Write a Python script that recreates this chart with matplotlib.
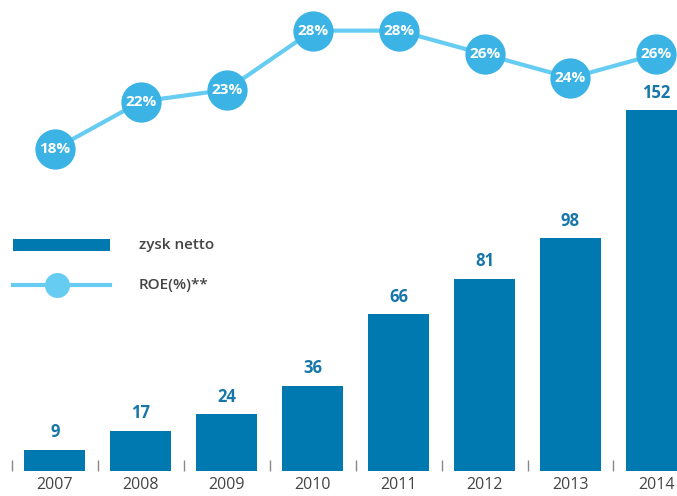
import matplotlib
matplotlib.use("Agg")
import matplotlib.pyplot as plt
from matplotlib.lines import Line2D
from matplotlib.patches import Rectangle

years = ["2007", "2008", "2009", "2010", "2011", "2012", "2013", "2014"]
zysk_netto = [9, 17, 24, 36, 66, 81, 98, 152]
roe = [18, 22, 23, 28, 28, 26, 24, 26]
roe_labels = ["18%", "22%", "23%", "28%", "28%", "26%", "24%", "26%"]

BAR = "#0079B0"
LINE = "#66CCF2"
CIRC = "#3BB4E5"
TXT = "#1877A9"
GRAY = "#444444"

plt.rcParams['font.family'] = ['Open Sans', 'DejaVu Sans']

W, H = 677, 496
fig = plt.figure(figsize=(W / 100, H / 100), dpi=100)
base = 471
ax = fig.add_axes([0, (H - base) / H, 1, base / H])
x = list(range(len(years)))
ax.bar(x, zysk_netto, width=0.71, color=BAR, zorder=2)
ax.set_xlim(-0.64, 7.24)
ax.set_ylim(0, base / 2.375)
for xi, v in zip(x, zysk_netto):
    ax.annotate(str(v), (xi, v), xytext=(0, 6), textcoords="offset points",
                ha="center", va="bottom", fontsize=12, fontweight="bold", color=TXT)
for s in ax.spines.values():
    s.set_visible(False)
ax.set_yticks([])
ax.set_xticks(x)
ax.set_xticklabels(years, fontsize=11.5, color=GRAY)
ax.tick_params(axis="x", which="major", length=0, pad=4)
ax.set_xticks([i - 0.5 for i in x], minor=True)
ax.tick_params(axis="x", which="minor", direction="in", length=8, width=1, color="#888888")

ax2 = ax.twinx()
ax2.set_ylim(-9.25, 30.59)
ax2.plot(x, roe, color=LINE, lw=3, zorder=3)
ax2.plot(x, roe, 'o', color=CIRC, markersize=29, markeredgewidth=0, zorder=4)
for xi, v, lab in zip(x, roe, roe_labels):
    ax2.text(xi, v, lab, ha="center", va="center", fontsize=11, fontweight="bold",
             color="white", zorder=5)
ax2.set_yticks([])
for s in ax2.spines.values():
    s.set_visible(False)
ax2.tick_params(axis="x", which="both", length=0)

# legend
def px(xp, yp):
    return xp / W, 1 - yp / H

fig.add_artist(Rectangle(px(13, 251), 97 / W, 12 / H, transform=fig.transFigure,
                         color=BAR, lw=0))
fig.text(*px(139, 245), "zysk netto", fontsize=11, fontweight="semibold", color=GRAY, va="center")
x0, y0 = px(13, 285)
x1, _ = px(110, 285)
fig.add_artist(Line2D([x0, x1], [y0, y0], transform=fig.transFigure, color=LINE, lw=3))
xm, _ = px(57, 285)
fig.add_artist(Line2D([xm], [y0], transform=fig.transFigure, marker='o', color=LINE,
                      markersize=18, markeredgewidth=0))
fig.text(*px(139, 285), "ROE(%)**", fontsize=11, fontweight="semibold", color=GRAY, va="center")

fig.savefig("out.png", dpi=100)
